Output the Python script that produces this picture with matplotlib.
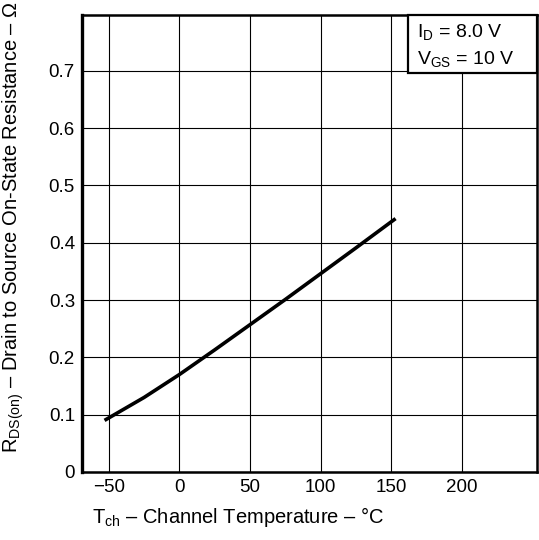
import matplotlib
matplotlib.use('Agg')
import matplotlib.pyplot as plt
from matplotlib.patches import Rectangle

# curve
temp = [-53, -25, 0, 25, 50, 75, 100, 125, 153]
rds_on = [0.090, 0.130, 0.170, 0.213, 0.257, 0.301, 0.346, 0.391, 0.442]

x_ticks = [-50, 0, 50, 100, 150, 200]
y_ticks = [0, 0.1, 0.2, 0.3, 0.4, 0.5, 0.6, 0.7]
y_labels = ['0', '0.1', '0.2', '0.3', '0.4', '0.5', '0.6', '0.7']
cond_lines = ['I$_{\\rm D}$ = 8.0 V', 'V$_{\\rm GS}$ = 10 V']

plt.rcParams['font.family'] = ['Liberation Sans', 'DejaVu Sans']
plt.rcParams['mathtext.fontset'] = 'custom'
plt.rcParams['mathtext.rm'] = 'Liberation Sans'

fig = plt.figure(figsize=(5.39, 5.40), dpi=100)
ax = fig.add_axes([0.152, 0.126, 0.844, 0.846])

ax.plot(temp, rds_on, color='black', lw=2.6, solid_capstyle='butt')

ax.set_xlim(-69, 253)
ax.set_ylim(0, 0.797)
ax.set_xticks(x_ticks)
ax.set_xticklabels(['\u221250' if t == -50 else str(t) for t in x_ticks])
ax.set_yticks(y_ticks)
ax.set_yticklabels(y_labels)
ax.tick_params(length=0, labelsize=13.5, colors='black')
ax.tick_params(axis='x', pad=5)
ax.tick_params(axis='y', pad=5)
ax.grid(True, color='black', lw=0.8)
for s in ax.spines.values():
    s.set_linewidth(1.8)
ax.spines['left'].set_linewidth(2.4)

ax.set_xlabel('T$_{\\rm ch}$ \u2013 Channel Temperature \u2013 \u00b0C', fontsize=14.5)
ax.xaxis.set_label_coords(0.343, -0.072)
ax.set_ylabel('R$_{\\rm DS(on)}$ \u2013 Drain to Source On-State Resistance \u2013 \u03a9',
              fontsize=14.5)
ax.yaxis.set_label_coords(-0.122, 0.535)

# condition box in the upper right corner, sharing the frame edges
ax.add_patch(Rectangle((0.716, 0.873), 0.284, 0.127, transform=ax.transAxes,
                       fc='white', ec='black', lw=1.6, zorder=5, clip_on=False))
ax.text(0.736, 0.961, cond_lines[0], transform=ax.transAxes, fontsize=14,
        va='center', ha='left', zorder=6)
ax.text(0.736, 0.902, cond_lines[1], transform=ax.transAxes, fontsize=14,
        va='center', ha='left', zorder=6)

fig.savefig('out.png', dpi=100)
